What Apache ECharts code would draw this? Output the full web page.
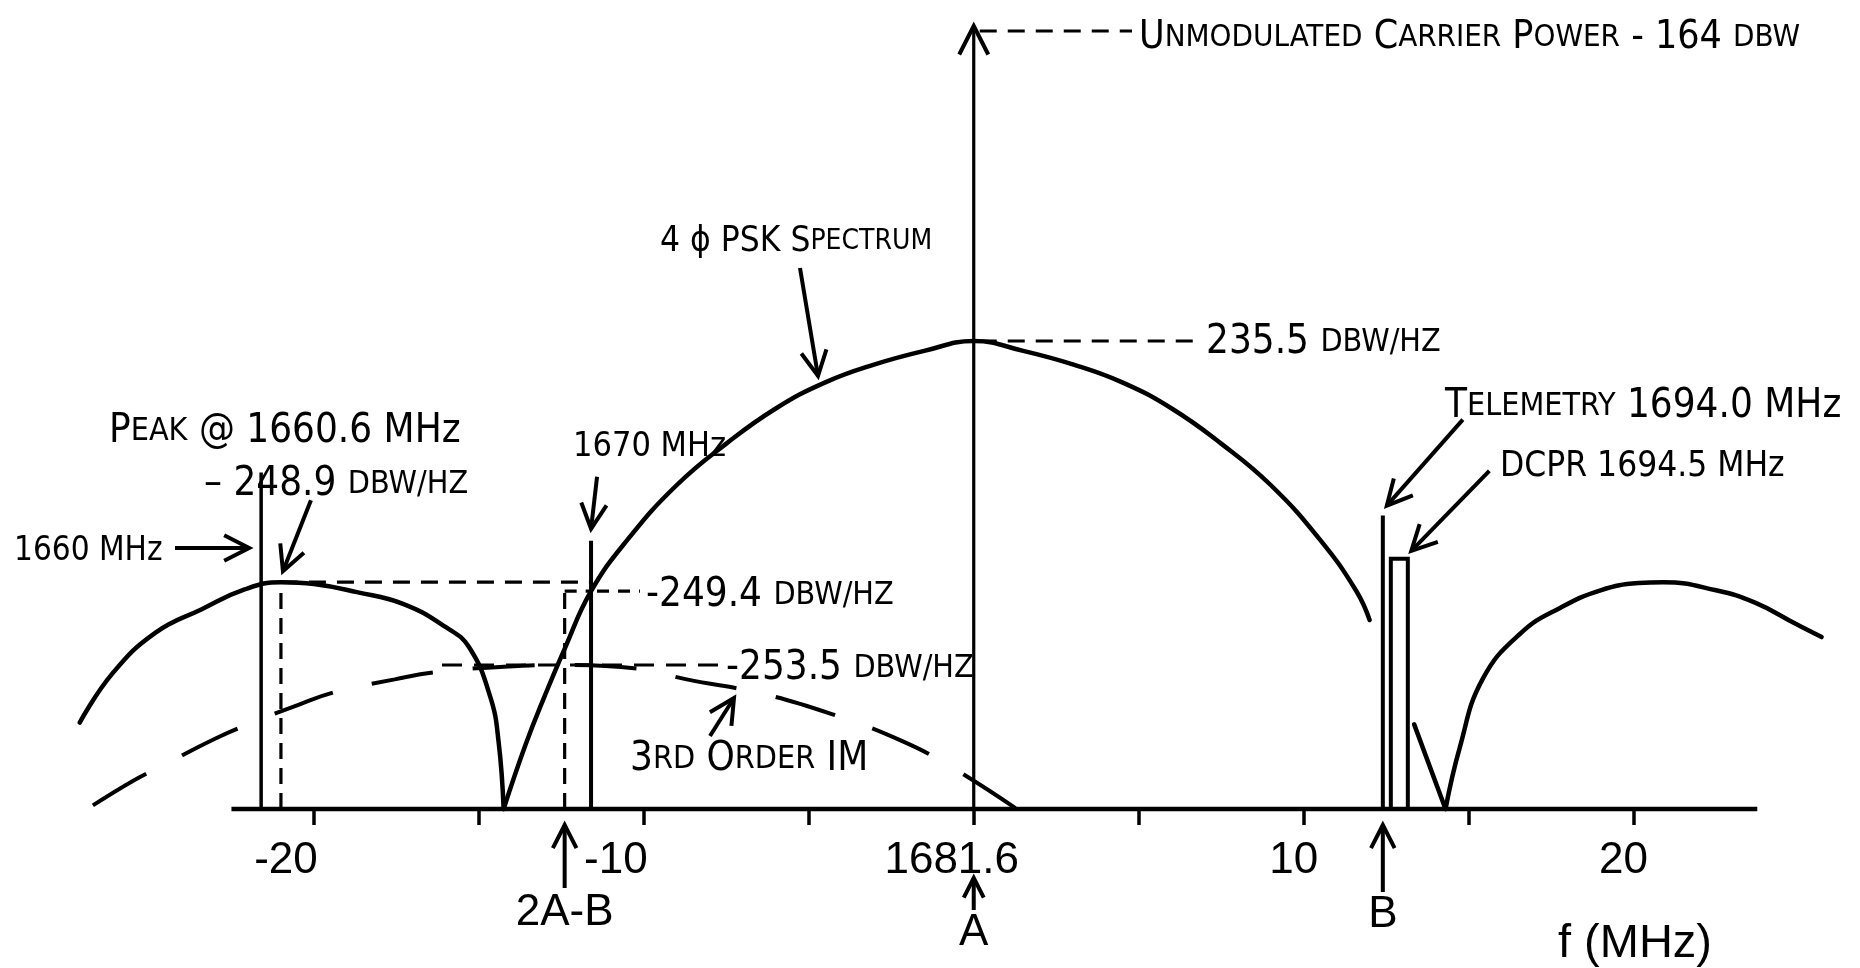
<!DOCTYPE html>
<html>
<head>
<meta charset="utf-8">
<script src="https://cdn.jsdelivr.net/npm/echarts@6/dist/echarts.min.js"></script>
<style>
  html, body { margin: 0; padding: 0; background: #fff; }
  #chart { width: 1860px; height: 968px; }
</style>
</head>
<body>
<div id="chart"></div>
<script>
// Frequencies are offsets in MHz from the 1681.6 MHz carrier (A); levels are dBW/Hz.
const CARRIER_MHZ = 1681.6;
const X_MIN = -28, X_MAX = 26.5;             // plotting range (curves run past the drawn axis)
const AXIS_FROM = -22.5, AXIS_TO = 23.75;     // extent of the drawn frequency axis
const Y_MIN = -261.5, Y_MAX = -218;           // baseline level and top of the carrier arrow

const tickValues = [-20, -15, -10, -5, 0, 5, 10, 15, 20];
const tickLabelValues = [-20, -10, 0, 10, 20];

// 4-phase PSK spectrum: main lobe (broken where the telemetry / DCPR carriers sit)
const pskMainLobe = [
  [-14.25, -261.5], [-13.6, -258.0], [-13.0, -255.2], [-12.4, -252.6], [-11.6, -249.4],
  [-10.5, -246.55], [-9.0, -243.5], [-7.5, -241.2], [-6.0, -239.25], [-4.5, -237.8],
  [-3.0, -236.8], [-1.5, -236.05], [0, -235.5], [1.5, -236.05], [3.0, -236.8],
  [4.5, -237.8], [6.0, -239.25], [7.5, -241.2], [9.0, -243.5], [10.5, -246.55],
  [11.6, -249.4], [12.0, -251.0]
];
const pskMainTail = [[13.35, -256.8], [14.3, -261.5]];

// first side lobes
const lowerSideLobe = [
  [-27.1, -256.7], [-26.1, -253.95], [-24.8, -251.7], [-23.4, -250.4], [-22.1, -249.3],
  [-21.0, -248.9], [-20.0, -249.0], [-18.7, -249.45], [-17.3, -250.1], [-16.0, -251.4],
  [-15.3, -252.5], [-14.65, -255.3], [-14.4, -257.8], [-14.25, -261.5]
];
const upperSideLobe = [
  [14.3, -261.5], [14.73, -258.1], [15.42, -254.3], [16.6, -251.7], [17.8, -250.3],
  [19.0, -249.35], [20.15, -248.95], [20.9, -248.9], [22.5, -249.35], [23.7, -250.05],
  [24.9, -251.2], [25.7, -251.95]
];

// 3rd order intermodulation product centred on 2A-B
const imProduct3 = [
  [-26.7, -261.3], [-25.45, -259.9], [-24.6, -259.1], [-23.0, -257.6], [-22.0, -256.8],
  [-20.45, -255.7], [-19.35, -255.0], [-17.55, -254.3], [-16.3, -253.9], [-14.25, -253.6],
  [-12.4, -253.5], [-10.2, -253.7], [-8.7, -254.3], [-6.4, -255.1], [-4.35, -256.2],
  [-2.2, -257.7], [-0.65, -259.2], [1.3, -261.5]
];

// spectral lines and marker frequencies
const line1660 = { f: -21.6, top: -242.8 };   // 1660 MHz band edge
const line1670 = { f: -11.6, top: -246.6 };   // 1670 MHz
const telemetry = { f: 12.4, top: -245.2 };   // 1694.0 MHz
const dcpr = { f: 12.9, top: -247.6 };        // 1694.5 MHz
const carrierA = { f: 0 };
const twoAminusB = { f: -12.4 };
const pointB = { f: 12.4 };

// labelled levels
const pskPeak = { f: 0, level: -235.5 };
const lobePeak = { f: -21.0, level: -248.9 };     // 1660.6 MHz
const level1670 = { f: -11.6, level: -249.4 };
const imPeak = { f: -12.4, level: -253.5 };

const INK = '#000';
const ANN_FONT = "'Liberation Sans Narrow','DejaVu Sans Condensed','Liberation Sans',sans-serif";
const AX_FONT = "'Liberation Sans','DejaVu Sans',sans-serif";

function curve(data, extra) {
  return Object.assign({
    type: 'line', data, symbol: 'none', smooth: 0.45, clip: false,
    silent: true, animation: false,
    lineStyle: { color: INK, width: 4.5, cap: 'round' }
  }, extra || {});
}
function segment(data, width, dash) {
  return {
    type: 'line', data, symbol: 'none', clip: false, silent: true, animation: false,
    lineStyle: { color: INK, width, type: dash || 'solid' }
  };
}

const axRich = {
  c: { fontFamily: AX_FONT, fontSize: 44, color: INK, padding: [0, 44, 0, 0] },
  n: { fontFamily: AX_FONT, fontSize: 44, color: INK, padding: [0, 56, 0, 0] },
  p: { fontFamily: AX_FONT, fontSize: 44, color: INK, padding: [0, 20, 0, 0] }
};

const option = {
  backgroundColor: '#fff',
  animation: false,
  grid: { left: 50, right: 12, top: 26, bottom: 159 },
  xAxis: {
    type: 'value', min: X_MIN, max: X_MAX,
    axisLine: { show: false },
    axisTick: { show: true, customValues: tickValues, length: 16, lineStyle: { color: INK, width: 3.5 } },
    axisLabel: {
      show: true, customValues: tickLabelValues, margin: 30,
      formatter: v => v === 0 ? '{c|' + CARRIER_MHZ.toFixed(1) + '}'
                  : v < 0 ? '{n|-' + Math.abs(v) + '}' : '{p|' + v + '}',
      rich: axRich
    },
    splitLine: { show: false }
  },
  yAxis: { type: 'value', min: Y_MIN, max: Y_MAX, show: false },
  series: [
    // frequency axis
    segment([[AXIS_FROM, Y_MIN], [AXIS_TO, Y_MIN]], 4.5),
    curve(pskMainLobe),
    curve(pskMainTail, { smooth: false }),
    curve(lowerSideLobe),
    curve(upperSideLobe),
    curve(imProduct3, { lineStyle: { color: INK, width: 4, type: [62, 40] } }),
    // carrier A, off scale
    segment([[carrierA.f, Y_MIN], [carrierA.f, Y_MAX]], 3.2),
    // 1660 / 1670 MHz and telemetry lines
    segment([[line1660.f, Y_MIN], [line1660.f, line1660.top]], 3.5),
    segment([[line1670.f, Y_MIN], [line1670.f, line1670.top]], 4),
    segment([[telemetry.f, Y_MIN], [telemetry.f, telemetry.top]], 4),
    // peak of the lower side lobe, carried across to 1670 MHz
    segment([[lobePeak.f, Y_MIN], [lobePeak.f, lobePeak.level]], 3.2, [16, 9]),
    segment([[lobePeak.f, lobePeak.level], [level1670.f, lobePeak.level]], 3.2, [17, 11]),
    // level at 2A-B / 1670 MHz
    segment([[twoAminusB.f, Y_MIN], [twoAminusB.f, level1670.level]], 3.2, [16, 9]),
    segment([[twoAminusB.f, level1670.level], [level1670.f, level1670.level]], 3.2, [12, 9]),
    // DCPR carrier drawn as a narrow outlined block
    {
      type: 'custom', data: [[dcpr.f, dcpr.top]], clip: false, silent: true, animation: false,
      renderItem(params, api) {
        const t = api.coord([api.value(0), api.value(1)]);
        const b = api.coord([api.value(0), Y_MIN]);
        const h = 8.5;
        return {
          type: 'polyline',
          shape: { points: [[t[0] - h, b[1]], [t[0] - h, t[1]], [t[0] + h, t[1]], [t[0] + h, b[1]]] },
          style: { stroke: INK, lineWidth: 4, fill: null }
        };
      }
    }
  ]
};

const chart = echarts.init(document.getElementById('chart'), null, { renderer: 'canvas' });
chart.setOption(option);

const px = (f, lvl) => chart.convertToPixel({ gridIndex: 0 }, [f, lvl]);

// b = full capitals, s = small capitals
function annRich(scale) {
  return {
    b: { fontFamily: ANN_FONT, fontSize: Math.round(40 * scale), fill: INK },
    s: { fontFamily: ANN_FONT, fontSize: Math.round(32 * scale), fill: INK }
  };
}
const axTextRich = {
  a: { fontFamily: AX_FONT, fontSize: 44, fill: INK },
  f: { fontFamily: AX_FONT, fontSize: 47, fill: INK }
};

function text(x, y, str, opts) {
  opts = opts || {};
  return {
    type: 'text', x, y: y + (opts.rich ? 0 : 4), silent: true,
    style: { text: str, rich: opts.rich || annRich(opts.scale || 1), fill: INK,
             align: opts.align || 'left', verticalAlign: 'middle' }
  };
}
function head(tip, ang, len, spread) {
  len = len || 28; spread = (spread || 27) * Math.PI / 180;
  const p1 = [tip[0] - len * Math.cos(ang - spread), tip[1] - len * Math.sin(ang - spread)];
  const p2 = [tip[0] - len * Math.cos(ang + spread), tip[1] - len * Math.sin(ang + spread)];
  return { type: 'polyline', silent: true, shape: { points: [p1, tip, p2] },
           style: { stroke: INK, lineWidth: 4, fill: null, lineJoin: 'miter' } };
}
function arrow(tail, tip, len) {
  const ang = Math.atan2(tip[1] - tail[1], tip[0] - tail[0]);
  return [
    { type: 'line', silent: true, shape: { x1: tail[0], y1: tail[1], x2: tip[0], y2: tip[1] },
      style: { stroke: INK, lineWidth: 4 } },
    head(tip, ang, len)
  ];
}
function dashed(a, b, dash, w) {
  return { type: 'line', silent: true, shape: { x1: a[0], y1: a[1], x2: b[0], y2: b[1] },
           style: { stroke: INK, lineWidth: w || 3.2, lineDash: dash || [17, 11] } };
}

function annotations() {
  const g = [];
  const base = px(0, Y_MIN)[1];

  // carrier arrow and its caption
  const top = px(carrierA.f, Y_MAX);
  g.push(head(top, -Math.PI / 2, 32, 27));
  g.push(dashed([top[0] + 6, top[1] + 5], [1132, top[1] + 5]));
  g.push(text(1139, top[1] + 8,
    '{b|U}{s|NMODULATED}{b| C}{s|ARRIER}{b| P}{s|OWER}{b| - 164 }{s|DBW}', { scale: 0.97 }));

  // main lobe peak
  const pk = px(pskPeak.f, pskPeak.level);
  g.push(dashed([pk[0] + 6, pk[1]], [1195, pk[1]]));
  g.push(text(1206, pk[1] - 2, '{b|235.5 }{s|DBW/HZ}'));

  // spectrum caption
  g.push(text(660, 238, '{b|4 ϕ PSK S}{s|PECTRUM}', { scale: 0.88 }));
  g.push(...arrow([800, 268], [818, 376]));

  // lower side lobe peak
  const lp = px(lobePeak.f, lobePeak.level);
  g.push(text(109, 428, '{b|P}{s|EAK}{b| @ 1660.6 MHz}'));
  g.push(text(204, 481, '{b|– 248.9 }{s|DBW/HZ}'));
  g.push(...arrow([lp[0] + 30, lp[1] - 82], [lp[0] + 2, lp[1] - 11]));

  // 1660 MHz
  const l60 = px(line1660.f, line1660.top);
  g.push(text(14, 547, '{b|1660 MHz}', { scale: 0.83 }));
  g.push(...arrow([175, 548], [l60[0] - 12, 548]));

  // 1670 MHz
  const l70 = px(line1670.f, line1670.top);
  g.push(text(l70[0] - 18, 443, '{b|1670 MHz}', { scale: 0.85 }));
  g.push(...arrow([l70[0] + 6, l70[1] - 64], [l70[0], l70[1] - 12]));

  // -249.4 dBW/Hz at 1670 MHz
  const c70 = px(level1670.f, level1670.level);
  g.push(dashed([c70[0] + 6, c70[1]], [640, c70[1]], [12, 9]));
  g.push(text(646, c70[1], '{b|-249.4 }{s|DBW/HZ}'));

  // 3rd order IM peak
  const ip = px(imPeak.f, imPeak.level);
  g.push(dashed([442, ip[1]], [720, ip[1]], [20, 12]));
  g.push(text(726, ip[1], '{b|-253.5 }{s|DBW/HZ}'));
  g.push(text(630, 756, '{b|3}{s|RD}{b| O}{s|RDER}{b| IM}'));
  g.push(...arrow([710, 736], [734, 698]));

  // telemetry and DCPR carriers
  const tl = px(telemetry.f, telemetry.top);
  g.push(text(1445, 403, '{b|T}{s|ELEMETRY}{b| 1694.0 MHz}'));
  g.push(...arrow([tl[0] + 80, tl[1] - 96], [tl[0] + 4, tl[1] - 10]));
  const dc = px(dcpr.f, dcpr.top);
  g.push(text(1500, 463, '{b|DCPR 1694.5 MHz}', { scale: 0.88 }));
  g.push(...arrow([dc[0] + 90, dc[1] - 88], [dc[0] + 12, dc[1] - 8]));

  // frequency markers under the axis
  const xab = px(twoAminusB.f, Y_MIN)[0];
  g.push(...arrow([xab, base + 79], [xab, base + 16], 26));
  g.push(text(xab, base + 104, '{a|2A-B}', { align: 'center', rich: axTextRich }));
  const xa = px(carrierA.f, Y_MIN)[0];
  g.push(...arrow([xa, base + 101], [xa, base + 69], 22));
  g.push(text(xa, base + 124, '{a|A}', { align: 'center', rich: axTextRich }));
  const xb = px(pointB.f, Y_MIN)[0];
  g.push(...arrow([xb, base + 83], [xb, base + 16], 26));
  g.push(text(xb, base + 106, '{a|B}', { align: 'center', rich: axTextRich }));

  g.push(text(1558, 944, '{f|f (MHz)}', { rich: axTextRich }));
  return g;
}

chart.setOption({ graphic: annotations() });
</script>
</body>
</html>
